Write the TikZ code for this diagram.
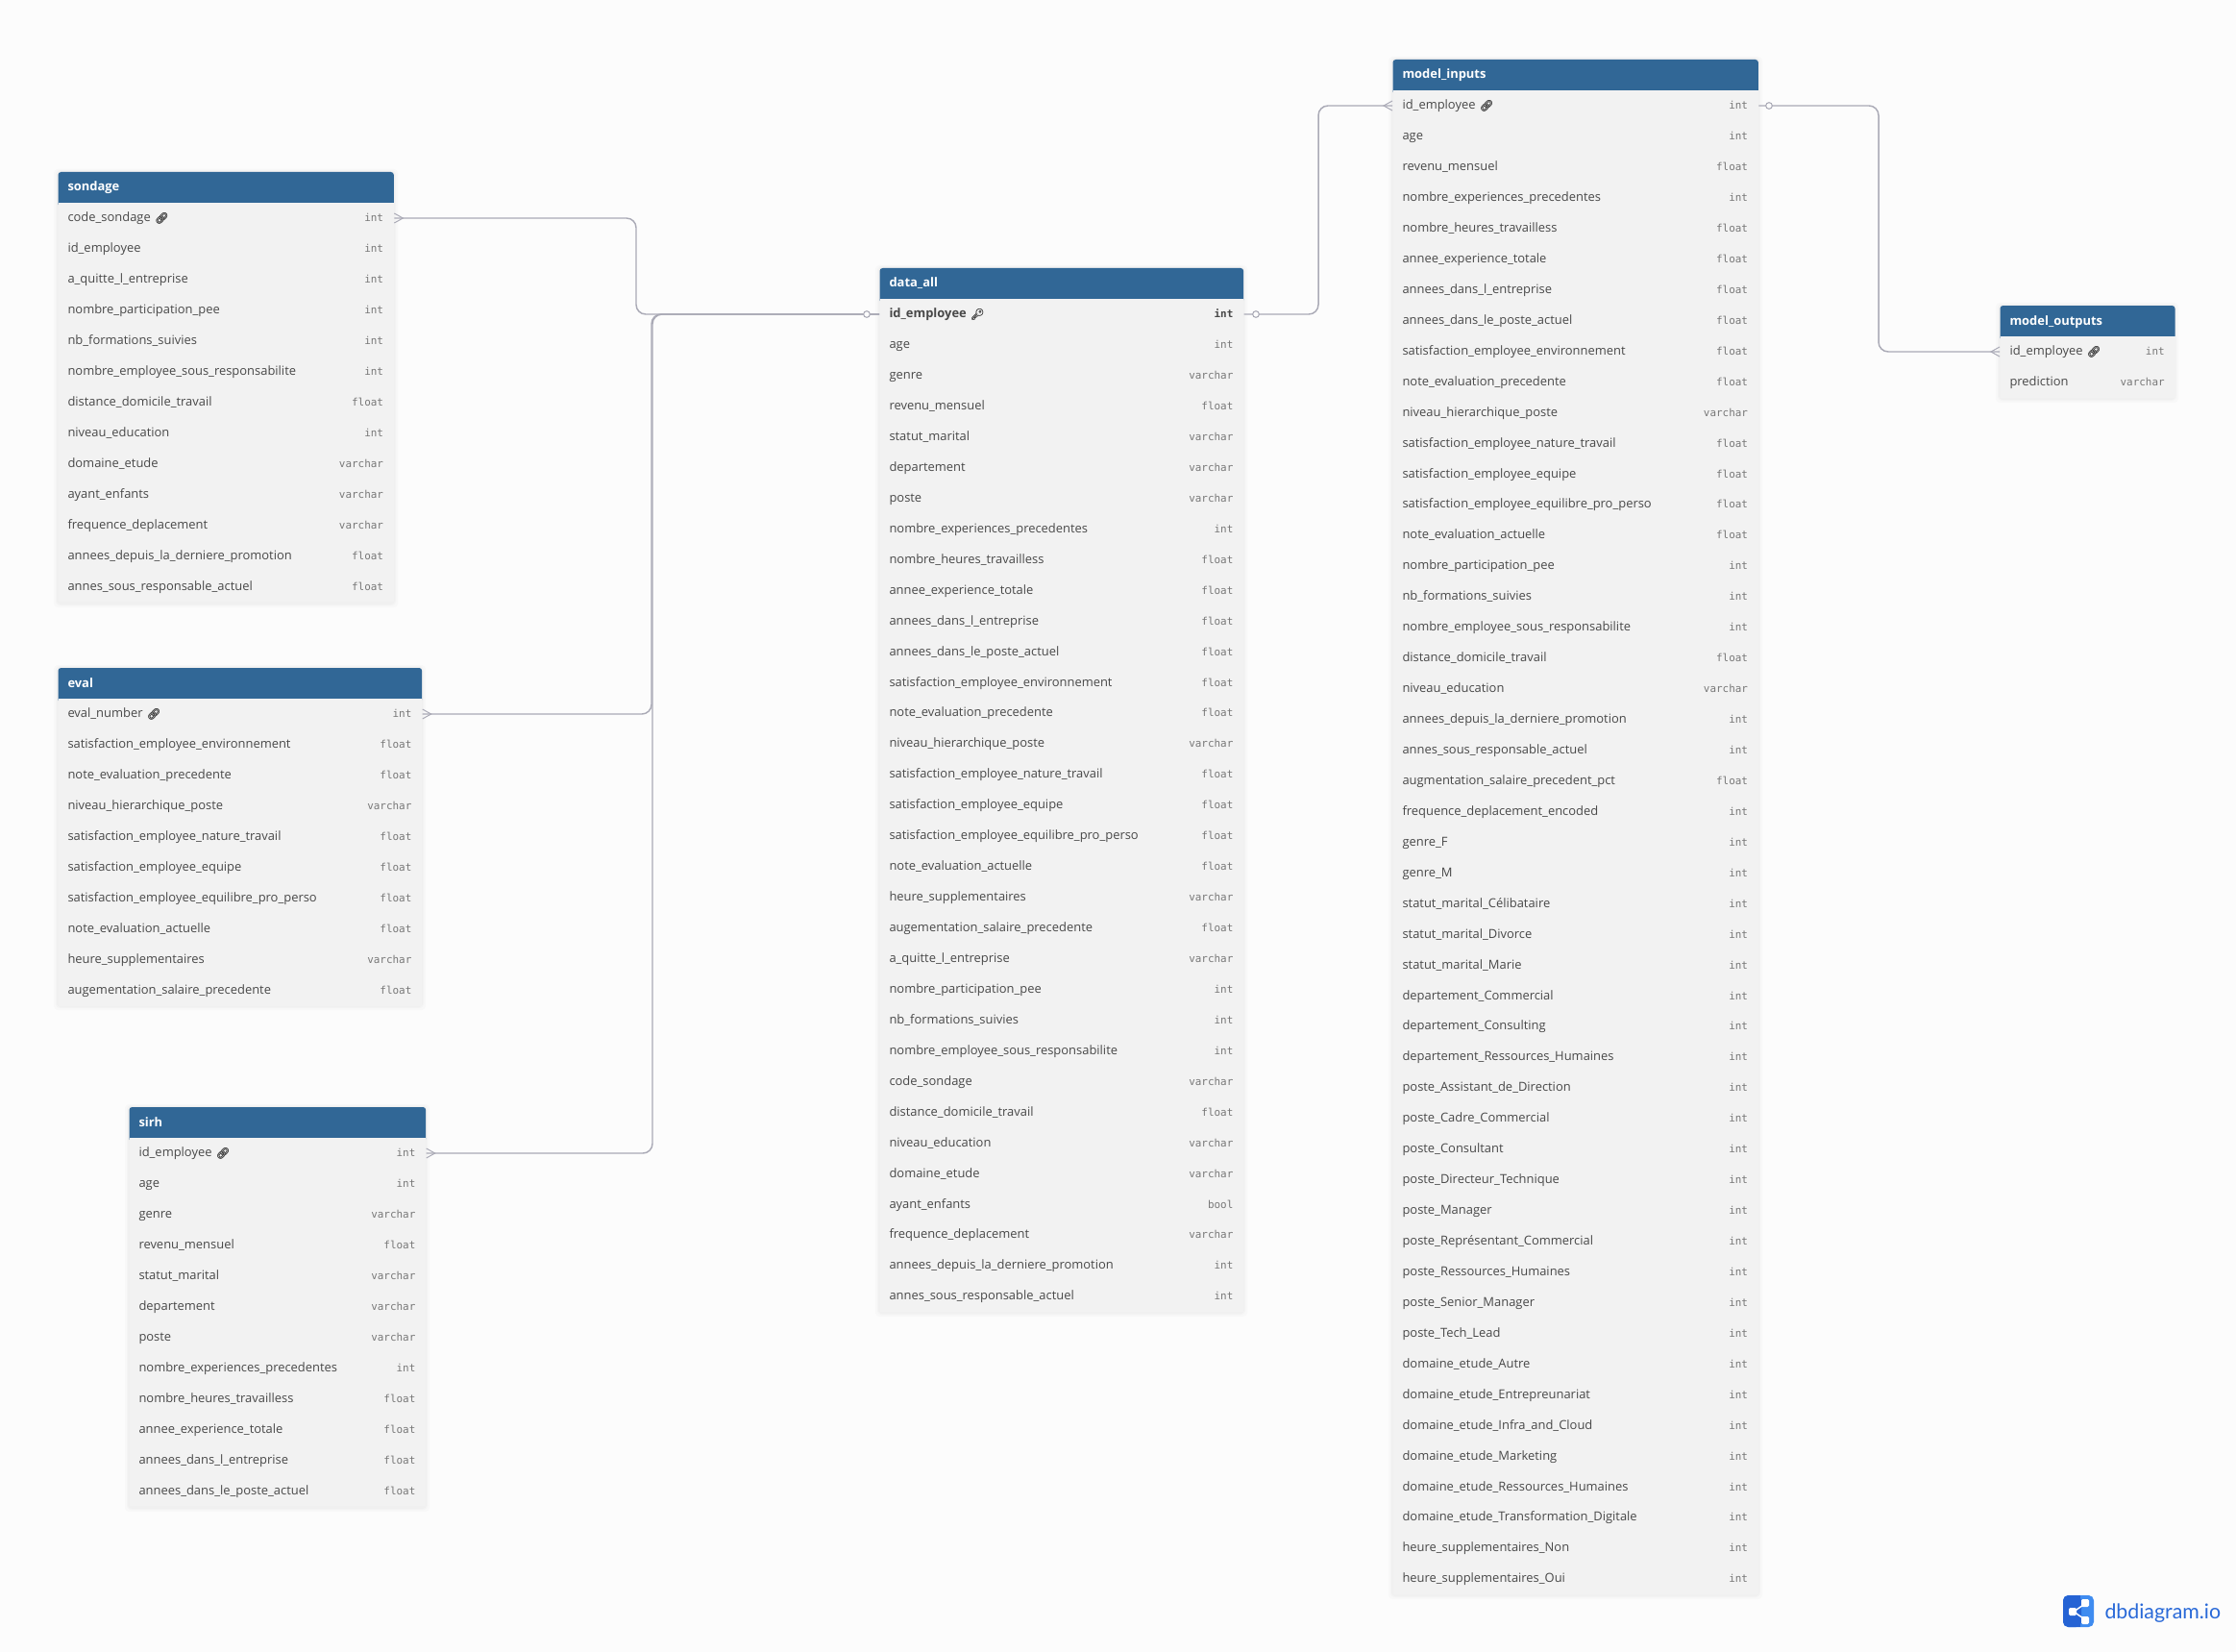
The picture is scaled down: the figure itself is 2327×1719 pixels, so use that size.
\documentclass[tikz,border=0pt]{standalone}
\usepackage{fontspec}
\setmainfont{Open Sans}
\newfontfamily\typefont{DejaVu Sans Mono}
\newfontfamily\emojifont[FakeBold=1.5]{Noto Emoji}
\newfontfamily\logofont{Lato}
\definecolor{pagebg}{RGB}{252,252,252}
\definecolor{headblue}{RGB}{49,103,150}
\definecolor{rowgray}{RGB}{242,242,242}
\definecolor{rowink}{RGB}{72,72,72}
\definecolor{typeink}{RGB}{120,120,120}
\definecolor{relgray}{RGB}{170,170,182}
\definecolor{logodark}{RGB}{37,99,212}
\definecolor{logolight}{RGB}{63,140,240}
\newcommand{\coltype}[1]{\hfill{\typefont\fontsize{8.2}{9}\selectfont\color{typeink}#1}\hspace*{0.6pt}}
\newcommand{\linkicon}{{\emojifont\fontsize{8.5}{9}\selectfont\char"1F517}}
\newcommand{\keyicon}{{\emojifont\fontsize{8.5}{9}\selectfont\char"1F511}}
\newcommand{\tableshade}[4]{%
  \fill [softshade] (#1-4,#2-3) rectangle (#3+4,#4+5);
  \fill [softshade] (#1-2,#2-2) rectangle (#3+2,#4+3);
  \fill [softshade] (#1-1,#2-1) rectangle (#3+1,#4+2);}
\tikzset{every picture/.style={line width=0.75pt},
  softshade/.style={fill=black,fill opacity=0.015,rounded corners=3},
  tablehead/.style={anchor=base west,fill=headblue,text=white,rounded corners=2.25pt,inner xsep=7.5pt,inner ysep=0pt,text height=15pt,text depth=12pt,text width=#1,align=left,font=\fontsize{9.7}{11}\selectfont\bfseries},
  fieldrow/.style={anchor=west,fill=rowgray,text=rowink,inner xsep=7.5pt,inner ysep=0pt,minimum height=24.1pt,text height=7.6pt,text depth=2pt,text width=#1,align=left,font=\fontsize{9.7}{11}\selectfont},
  srow/.style={fieldrow=247pt},
  erow/.style={fieldrow=269pt},
  irow/.style={fieldrow=216.5pt},
  drow/.style={fieldrow=269pt},
  mrow/.style={fieldrow=270.25pt},
  orow/.style={fieldrow=121.5pt},
  relation/.style={draw=relgray,line width=1.1pt,rounded corners=7.5pt},
  crowfoot/.style={draw=relgray,line width=0.75pt},
  optcircle/.style={circle,draw=relgray,fill=pagebg,line width=0.8pt,inner sep=0pt,minimum size=5pt}}

\begin{document}
\begin{tikzpicture}[x=0.75pt,y=0.75pt,yscale=-1,xscale=1]
\useasboundingbox (0,0) rectangle (2327,1719);
\fill [pagebg] (0,0) rectangle (2327,1719);

%Table: sondage
\tableshade{60}{179}{410}{627}
\node [tablehead=247pt] (sondage) at (60,199) {sondage};
\node [srow] (s1) at (60,227) {code\_sondage \linkicon\coltype{int}};
\node [srow] (s2) at (60,258.9) {id\_employee\coltype{int}};
\node [srow] (s3) at (60,290.9) {a\_quitte\_l\_entreprise\coltype{int}};
\node [srow] (s4) at (60,322.8) {nombre\_participation\_pee\coltype{int}};
\node [srow] (s5) at (60,354.8) {nb\_formations\_suivies\coltype{int}};
\node [srow] (s6) at (60,386.7) {nombre\_employee\_sous\_responsabilite\coltype{int}};
\node [srow] (s7) at (60,418.6) {distance\_domicile\_travail\coltype{float}};
\node [srow] (s8) at (60,450.6) {niveau\_education\coltype{int}};
\node [srow] (s9) at (60,482.5) {domaine\_etude\coltype{varchar}};
\node [srow] (s10) at (60,514.5) {ayant\_enfants\coltype{varchar}};
\node [srow] (s11) at (60,546.4) {frequence\_deplacement\coltype{varchar}};
\node [srow] (s12) at (60,578.3) {annees\_depuis\_la\_derniere\_promotion\coltype{float}};
\node [srow] (s13) at (60,610.3) {annes\_sous\_responsable\_actuel\coltype{float}};

%Table: eval
\tableshade{60}{695}{439}{1046}
\node [tablehead=269pt] (eval) at (60,715) {eval};
\node [erow] (e1) at (60,743) {eval\_number \linkicon\coltype{int}};
\node [erow] (e2) at (60,774.9) {satisfaction\_employee\_environnement\coltype{float}};
\node [erow] (e3) at (60,806.9) {note\_evaluation\_precedente\coltype{float}};
\node [erow] (e4) at (60,838.8) {niveau\_hierarchique\_poste\coltype{varchar}};
\node [erow] (e5) at (60,870.8) {satisfaction\_employee\_nature\_travail\coltype{float}};
\node [erow] (e6) at (60,902.7) {satisfaction\_employee\_equipe\coltype{float}};
\node [erow] (e7) at (60,934.6) {satisfaction\_employee\_equilibre\_pro\_perso\coltype{float}};
\node [erow] (e8) at (60,966.6) {note\_evaluation\_actuelle\coltype{float}};
\node [erow] (e9) at (60,998.5) {heure\_supplementaires\coltype{varchar}};
\node [erow] (e10) at (60,1030.5) {augementation\_salaire\_precedente\coltype{float}};

%Table: sirh
\tableshade{134}{1152}{443}{1568}
\node [tablehead=216.5pt] (sirh) at (134,1172) {sirh};
\node [irow] (i1) at (134,1200) {id\_employee \linkicon\coltype{int}};
\node [irow] (i2) at (134,1231.9) {age\coltype{int}};
\node [irow] (i3) at (134,1263.9) {genre\coltype{varchar}};
\node [irow] (i4) at (134,1295.8) {revenu\_mensuel\coltype{float}};
\node [irow] (i5) at (134,1327.8) {statut\_marital\coltype{varchar}};
\node [irow] (i6) at (134,1359.7) {departement\coltype{varchar}};
\node [irow] (i7) at (134,1391.6) {poste\coltype{varchar}};
\node [irow] (i8) at (134,1423.6) {nombre\_experiences\_precedentes\coltype{int}};
\node [irow] (i9) at (134,1455.5) {nombre\_heures\_travailless\coltype{float}};
\node [irow] (i10) at (134,1487.5) {annee\_experience\_totale\coltype{float}};
\node [irow] (i11) at (134,1519.4) {annees\_dans\_l\_entreprise\coltype{float}};
\node [irow] (i12) at (134,1551.3) {annees\_dans\_le\_poste\_actuel\coltype{float}};

%Table: data_all
\tableshade{915}{279}{1294}{1365}
\node [tablehead=269pt] (dataall) at (915,299) {data\_all};
\node [drow,font=\fontsize{9.7}{11}\selectfont\bfseries] (d1) at (915,327) {id\_employee \keyicon\hfill{\typefont\fontsize{8.2}{9}\selectfont int}\hspace*{0.6pt}};
\node [drow] (d2) at (915,358.9) {age\coltype{int}};
\node [drow] (d3) at (915,390.9) {genre\coltype{varchar}};
\node [drow] (d4) at (915,422.8) {revenu\_mensuel\coltype{float}};
\node [drow] (d5) at (915,454.8) {statut\_marital\coltype{varchar}};
\node [drow] (d6) at (915,486.7) {departement\coltype{varchar}};
\node [drow] (d7) at (915,518.6) {poste\coltype{varchar}};
\node [drow] (d8) at (915,550.6) {nombre\_experiences\_precedentes\coltype{int}};
\node [drow] (d9) at (915,582.5) {nombre\_heures\_travailless\coltype{float}};
\node [drow] (d10) at (915,614.5) {annee\_experience\_totale\coltype{float}};
\node [drow] (d11) at (915,646.4) {annees\_dans\_l\_entreprise\coltype{float}};
\node [drow] (d12) at (915,678.3) {annees\_dans\_le\_poste\_actuel\coltype{float}};
\node [drow] (d13) at (915,710.3) {satisfaction\_employee\_environnement\coltype{float}};
\node [drow] (d14) at (915,742.2) {note\_evaluation\_precedente\coltype{float}};
\node [drow] (d15) at (915,774.2) {niveau\_hierarchique\_poste\coltype{varchar}};
\node [drow] (d16) at (915,806.1) {satisfaction\_employee\_nature\_travail\coltype{float}};
\node [drow] (d17) at (915,838) {satisfaction\_employee\_equipe\coltype{float}};
\node [drow] (d18) at (915,870) {satisfaction\_employee\_equilibre\_pro\_perso\coltype{float}};
\node [drow] (d19) at (915,901.9) {note\_evaluation\_actuelle\coltype{float}};
\node [drow] (d20) at (915,933.9) {heure\_supplementaires\coltype{varchar}};
\node [drow] (d21) at (915,965.8) {augementation\_salaire\_precedente\coltype{float}};
\node [drow] (d22) at (915,997.7) {a\_quitte\_l\_entreprise\coltype{varchar}};
\node [drow] (d23) at (915,1029.7) {nombre\_participation\_pee\coltype{int}};
\node [drow] (d24) at (915,1061.6) {nb\_formations\_suivies\coltype{int}};
\node [drow] (d25) at (915,1093.6) {nombre\_employee\_sous\_responsabilite\coltype{int}};
\node [drow] (d26) at (915,1125.5) {code\_sondage\coltype{varchar}};
\node [drow] (d27) at (915,1157.4) {distance\_domicile\_travail\coltype{float}};
\node [drow] (d28) at (915,1189.4) {niveau\_education\coltype{varchar}};
\node [drow] (d29) at (915,1221.3) {domaine\_etude\coltype{varchar}};
\node [drow] (d30) at (915,1253.3) {ayant\_enfants\coltype{bool}};
\node [drow] (d31) at (915,1285.2) {frequence\_deplacement\coltype{varchar}};
\node [drow] (d32) at (915,1317.1) {annees\_depuis\_la\_derniere\_promotion\coltype{int}};
\node [drow] (d33) at (915,1349.1) {annes\_sous\_responsable\_actuel\coltype{int}};

%Table: model_inputs
\tableshade{1449}{62}{1830}{1659}
\node [tablehead=270.25pt] (modelinputs) at (1449,82) {model\_inputs};
\node [mrow] (m1) at (1449,110) {id\_employee \linkicon\coltype{int}};
\node [mrow] (m2) at (1449,141.9) {age\coltype{int}};
\node [mrow] (m3) at (1449,173.9) {revenu\_mensuel\coltype{float}};
\node [mrow] (m4) at (1449,205.8) {nombre\_experiences\_precedentes\coltype{int}};
\node [mrow] (m5) at (1449,237.8) {nombre\_heures\_travailless\coltype{float}};
\node [mrow] (m6) at (1449,269.7) {annee\_experience\_totale\coltype{float}};
\node [mrow] (m7) at (1449,301.6) {annees\_dans\_l\_entreprise\coltype{float}};
\node [mrow] (m8) at (1449,333.6) {annees\_dans\_le\_poste\_actuel\coltype{float}};
\node [mrow] (m9) at (1449,365.5) {satisfaction\_employee\_environnement\coltype{float}};
\node [mrow] (m10) at (1449,397.5) {note\_evaluation\_precedente\coltype{float}};
\node [mrow] (m11) at (1449,429.4) {niveau\_hierarchique\_poste\coltype{varchar}};
\node [mrow] (m12) at (1449,461.3) {satisfaction\_employee\_nature\_travail\coltype{float}};
\node [mrow] (m13) at (1449,493.3) {satisfaction\_employee\_equipe\coltype{float}};
\node [mrow] (m14) at (1449,525.2) {satisfaction\_employee\_equilibre\_pro\_perso\coltype{float}};
\node [mrow] (m15) at (1449,557.2) {note\_evaluation\_actuelle\coltype{float}};
\node [mrow] (m16) at (1449,589.1) {nombre\_participation\_pee\coltype{int}};
\node [mrow] (m17) at (1449,621) {nb\_formations\_suivies\coltype{int}};
\node [mrow] (m18) at (1449,653) {nombre\_employee\_sous\_responsabilite\coltype{int}};
\node [mrow] (m19) at (1449,684.9) {distance\_domicile\_travail\coltype{float}};
\node [mrow] (m20) at (1449,716.9) {niveau\_education\coltype{varchar}};
\node [mrow] (m21) at (1449,748.8) {annees\_depuis\_la\_derniere\_promotion\coltype{int}};
\node [mrow] (m22) at (1449,780.7) {annes\_sous\_responsable\_actuel\coltype{int}};
\node [mrow] (m23) at (1449,812.7) {augmentation\_salaire\_precedent\_pct\coltype{float}};
\node [mrow] (m24) at (1449,844.6) {frequence\_deplacement\_encoded\coltype{int}};
\node [mrow] (m25) at (1449,876.6) {genre\_F\coltype{int}};
\node [mrow] (m26) at (1449,908.5) {genre\_M\coltype{int}};
\node [mrow] (m27) at (1449,940.4) {statut\_marital\_Célibataire\coltype{int}};
\node [mrow] (m28) at (1449,972.4) {statut\_marital\_Divorce\coltype{int}};
\node [mrow] (m29) at (1449,1004.3) {statut\_marital\_Marie\coltype{int}};
\node [mrow] (m30) at (1449,1036.3) {departement\_Commercial\coltype{int}};
\node [mrow] (m31) at (1449,1068.2) {departement\_Consulting\coltype{int}};
\node [mrow] (m32) at (1449,1100.1) {departement\_Ressources\_Humaines\coltype{int}};
\node [mrow] (m33) at (1449,1132.1) {poste\_Assistant\_de\_Direction\coltype{int}};
\node [mrow] (m34) at (1449,1164) {poste\_Cadre\_Commercial\coltype{int}};
\node [mrow] (m35) at (1449,1196) {poste\_Consultant\coltype{int}};
\node [mrow] (m36) at (1449,1227.9) {poste\_Directeur\_Technique\coltype{int}};
\node [mrow] (m37) at (1449,1259.8) {poste\_Manager\coltype{int}};
\node [mrow] (m38) at (1449,1291.8) {poste\_Représentant\_Commercial\coltype{int}};
\node [mrow] (m39) at (1449,1323.7) {poste\_Ressources\_Humaines\coltype{int}};
\node [mrow] (m40) at (1449,1355.7) {poste\_Senior\_Manager\coltype{int}};
\node [mrow] (m41) at (1449,1387.6) {poste\_Tech\_Lead\coltype{int}};
\node [mrow] (m42) at (1449,1419.5) {domaine\_etude\_Autre\coltype{int}};
\node [mrow] (m43) at (1449,1451.5) {domaine\_etude\_Entrepreunariat\coltype{int}};
\node [mrow] (m44) at (1449,1483.4) {domaine\_etude\_Infra\_and\_Cloud\coltype{int}};
\node [mrow] (m45) at (1449,1515.4) {domaine\_etude\_Marketing\coltype{int}};
\node [mrow] (m46) at (1449,1547.3) {domaine\_etude\_Ressources\_Humaines\coltype{int}};
\node [mrow] (m47) at (1449,1579.2) {domaine\_etude\_Transformation\_Digitale\coltype{int}};
\node [mrow] (m48) at (1449,1611.2) {heure\_supplementaires\_Non\coltype{int}};
\node [mrow] (m49) at (1449,1643.1) {heure\_supplementaires\_Oui\coltype{int}};

%Table: model_outputs
\tableshade{2081}{318}{2263}{414}
\node [tablehead=121.5pt] (modeloutputs) at (2081,338) {model\_outputs};
\node [orow] (o1) at (2081,366) {id\_employee \linkicon\coltype{int}};
\node [orow] (o2) at (2081,397.9) {prediction\coltype{varchar}};

%Relations
\coordinate (sondageBus) at (662,327);
\coordinate (evalBus) at (678,327);
\coordinate (sirhBus) at (679,327);
\coordinate (inputsBus) at (1372,110);
\coordinate (outputsBus) at (1955,366);
\draw [relation] (s1.east) -| (sondageBus) -- (d1.west);
\draw [relation] (e1.east) -| (evalBus) -- (d1.west);
\draw [relation] (i1.east) -| (sirhBus) -- (d1.west);
\draw [relation] (d1.east) -| (inputsBus) -- (m1.west);
\draw [relation] (m1.east) -| (outputsBus) -- (o1.west);

%Crow feet
\draw [crowfoot] (s1.east) ++(0,-5) -- ++(9,5) -- ++(-9,5);
\draw [crowfoot] (e1.east) ++(0,-5) -- ++(9,5) -- ++(-9,5);
\draw [crowfoot] (i1.east) ++(0,-5) -- ++(9,5) -- ++(-9,5);
\draw [crowfoot] (m1.west) ++(0,-5) -- ++(-9,5) -- ++(9,5);
\draw [crowfoot] (o1.west) ++(0,-5) -- ++(-9,5) -- ++(9,5);

%Optional ends
\node [optcircle] (dataLeftEnd) at (902,327) {};
\node [optcircle] (dataRightEnd) at (1307,327) {};
\node [optcircle] (inputsRightEnd) at (1841,110) {};

%Logo
\fill [logolight,rounded corners=4] (2147,1660) rectangle (2179,1693);
\fill [logodark,rounded corners=4] (2147,1660) rectangle (2166,1693);
\fill [logodark] (2160,1660) rectangle (2165,1693);
\draw [white,line width=1.1pt] (2158,1677) -- (2171,1668) (2158,1677) -- (2171,1686);
\fill [white,rounded corners=1] (2153,1673) rectangle (2161,1681);
\fill [white,rounded corners=1] (2166,1664) rectangle (2174,1672);
\fill [white,rounded corners=1] (2166,1682) rectangle (2174,1690);
\node [anchor=west,inner sep=0pt,text=logodark!85!logolight,font=\logofont\fontsize{16}{18}\selectfont] (logotext) at (2190,1679) {dbdiagram.io};
\end{tikzpicture}
\end{document}
